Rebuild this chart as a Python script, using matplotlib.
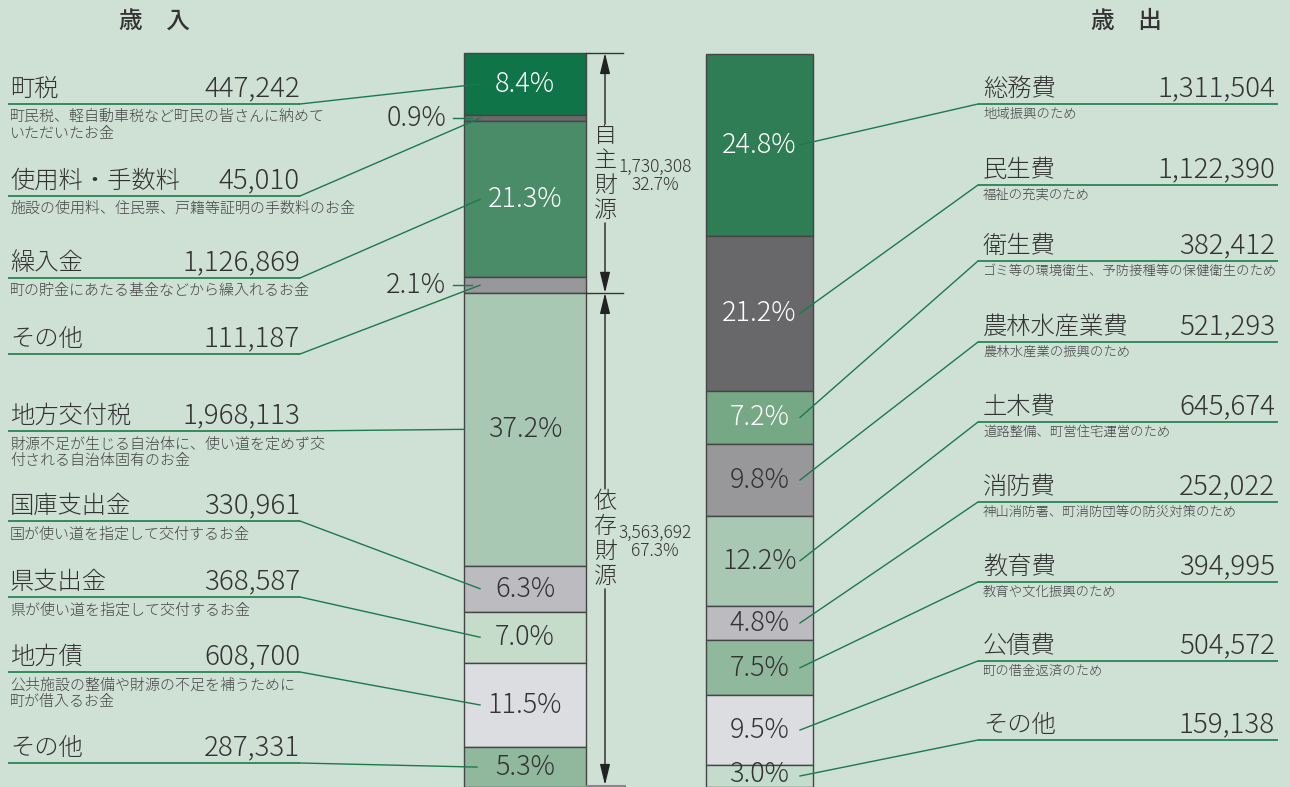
"""
Revenue / expenditure breakdown (歳入・歳出) as two stacked bars with leader labels.
"""
import matplotlib
matplotlib.use('Agg')
import matplotlib.pyplot as plt
import numpy as np

plt.rcParams['font.family'] = ['Noto Sans CJK JP', 'DejaVu Sans']
plt.rcParams['font.weight'] = 'light'

# ---- data: 歳入 ----
rev_names = ['町税', '使用料・手数料', '繰入金', 'その他', '地方交付税',
             '国庫支出金', '県支出金', '地方債', 'その他']
rev_values = [447242, 45010, 1126869, 111187, 1968113, 330961, 368587, 608700, 287331]
rev_pcts = [8.4, 0.9, 21.3, 2.1, 37.2, 6.3, 7.0, 11.5, 5.3]
rev_notes = ['町民税、軽自動車税など町民の皆さんに納めて\nいただいたお金',
             '施設の使用料、住民票、戸籍等証明の手数料のお金',
             '町の貯金にあたる基金などから繰入れるお金',
             '',
             '財源不足が生じる自治体に、使い道を定めず交\n付される自治体固有のお金',
             '国が使い道を指定して交付するお金',
             '県が使い道を指定して交付するお金',
             '公共施設の整備や財源の不足を補うために\n町が借入るお金',
             '']
own_count = 4          # 自主財源 = first four items
own_pct, dep_pct = 32.7, 67.3

# ---- data: 歳出 ----
exp_names = ['総務費', '民生費', '衛生費', '農林水産業費', '土木費',
             '消防費', '教育費', '公債費', 'その他']
exp_values = [1311504, 1122390, 382412, 521293, 645674, 252022, 394995, 504572, 159138]
exp_pcts = [24.8, 21.2, 7.2, 9.8, 12.2, 4.8, 7.5, 9.5, 3.0]
exp_notes = ['地域振興のため', '福祉の充実のため',
             'ゴミ等の環境衛生、予防接種等の保健衛生のため',
             '農林水産業の振興のため', '道路整備、町営住宅運営のため',
             '神山消防署、町消防団等の防災対策のため',
             '教育や文化振興のため', '町の借金返済のため', '']

# ---- style ----
BG = '#cfe0d5'
GREEN = '#1b7a4c'
TXT = '#333333'
rev_colors = ['#0f7447', '#6a6a6d', '#4a8c68', '#98989b', '#a8c8b4',
              '#bcbcc0', '#c6dccb', '#dcdde0', '#8fb89c']
rev_white = [True, False, True, False, False, False, False, False, False]
exp_colors = ['#2e7d55', '#68686b', '#76a886', '#98989b', '#a8c8b4',
              '#bcbcc0', '#8fb89c', '#dcdde0', '#c4dccb']
exp_white = [True, True, True, False, False, False, False, False, False]

W, H = 1290, 787
fig = plt.figure(figsize=(W / 100, H / 100), dpi=100, facecolor=BG)


def px_axes(x0, y0, x1, y1):
    return fig.add_axes([x0 / W, 1 - y1 / H, (x1 - x0) / W, (y1 - y0) / H])


def stacked_bar(ax, values, colors, pcts, white):
    total = sum(values)
    bottoms = np.concatenate([[0], np.cumsum(values)[:-1]])
    ax.set_xlim(-0.5, 0.5)
    ax.set_ylim(total, 0)
    ax.axis('off')
    bars = ax.bar(0, values, bottom=bottoms, width=1, color=colors,
                  edgecolor='#454545', linewidth=1.0)
    for b in bars:
        b.set_clip_on(False)
    for b, v, p, w in zip(bottoms, values, pcts, white):
        if p < 2.5:
            continue
        # keep the bottom label inside the figure
        y = min(b + v / 2, total * 0.982)
        ax.text(0, y, f'{p:.1f}%', ha='center', va='center',
                fontsize=19.5, color='white' if w else TXT)
    return bottoms


rev_ax = px_axes(464, 53, 586, 787)
exp_ax = px_axes(706, 54, 813, 787)
rev_bottoms = stacked_bar(rev_ax, rev_values, rev_colors, rev_pcts, rev_white)
exp_bottoms = stacked_bar(exp_ax, exp_values, exp_colors, exp_pcts, exp_white)

# overlay in pixel coordinates for labels and leader lines
ov = fig.add_axes([0, 0, 1, 1])
ov.set_xlim(0, W)
ov.set_ylim(H, 0)
ov.axis('off')
ov.set_zorder(5)


def to_ov(ax, x, y):
    disp = ax.transData.transform((x, y))
    return ov.transData.inverted().transform(disp)


# headers
ov.text(154, 22, '歳　入', ha='center', va='center', fontsize=17,
        fontweight='medium', color=TXT)
ov.text(1126, 22, '歳　出', ha='center', va='center', fontsize=17,
        fontweight='medium', color=TXT)

# ---- left labels ----
rev_ul = [104, 196, 278, 354, 431, 521, 597, 672, 763]
rev_tip = [480, 480, 480, 480, 464, 480, 480, 480, 477]
for i, (name, val, note) in enumerate(zip(rev_names, rev_values, rev_notes)):
    ul = rev_ul[i]
    ov.text(10, ul - 8, name, ha='left', va='baseline', fontsize=17.5, color=TXT)
    ov.text(300, ul - 8, f'{val:,}', ha='right', va='baseline', fontsize=20, color=TXT)
    ov.plot([8, 300], [ul, ul], color=GREEN, lw=1.2, solid_capstyle='butt')
    if note:
        ov.text(10, ul + 6, note, ha='left', va='top', fontsize=10.8,
                color='#444444', linespacing=1.2)
    ty = to_ov(rev_ax, 0, rev_bottoms[i] + val / 2)[1]
    ov.plot([300, rev_tip[i]], [ul, ty], color=GREEN, lw=1.0)
    if rev_pcts[i] < 2.5:
        ov.text(446, ty, f'{rev_pcts[i]:.1f}%', ha='right', va='center',
                fontsize=19.5, color=TXT)
        ov.plot([453, 472], [ty, ty], color=GREEN, lw=1.0)

# ---- right labels ----
exp_ul = [104, 185, 261, 342, 422, 502, 582, 661, 740]
for i, (name, val, note) in enumerate(zip(exp_names, exp_values, exp_notes)):
    ul = exp_ul[i]
    ov.text(983, ul - 8, name, ha='left', va='baseline', fontsize=17.5, color=TXT)
    ov.text(1275, ul - 8, f'{val:,}', ha='right', va='baseline', fontsize=20, color=TXT)
    ov.plot([978, 1278], [ul, ul], color=GREEN, lw=1.2, solid_capstyle='butt')
    if note:
        ov.text(983, ul + 4, note, ha='left', va='top', fontsize=9.6, color='#444444')
    ty = to_ov(exp_ax, 0, exp_bottoms[i] + val / 2)[1]
    ov.plot([978, 800], [ul, ty], color=GREEN, lw=1.0)

# ---- bracket: 自主財源 / 依存財源 ----
total = sum(rev_values)
own_total = sum(rev_values[:own_count])
dep_total = total - own_total
y_top = to_ov(rev_ax, 0, 0)[1]
y_mid = to_ov(rev_ax, 0, own_total)[1]
y_bot = to_ov(rev_ax, 0, total)[1]
bx = 605
arrow = dict(arrowstyle='-|>,head_length=0.9,head_width=0.22', color='#222222',
             lw=1.0, mutation_scale=14, shrinkA=0, shrinkB=0)

for y in (y_top, y_mid):
    ov.plot([586, 623], [y, y], color='#333333', lw=1.0)
ov.plot([586, 625], [y_bot - 1, y_bot - 1], color='#888888', lw=1.5)

for (ya, yb, word, amount, pct) in [(y_top, y_mid, '自主財源', own_total, own_pct),
                                    (y_mid, y_bot - 2, '依存財源', dep_total, dep_pct)]:
    mid = (ya + yb) / 2
    ov.annotate('', xy=(bx, ya), xytext=(bx, mid - 50), arrowprops=arrow)
    ov.annotate('', xy=(bx, yb), xytext=(bx, mid + 50), arrowprops=arrow)
    for k, ch in enumerate(word):
        ov.text(bx, mid - 37.5 + 25 * k, ch, ha='center', va='center',
                fontsize=16.5, color=TXT)
    ov.text(655, mid - 6, f'{amount:,}', ha='center', va='center', fontsize=12.5, color=TXT)
    ov.text(655, mid + 12, f'{pct:.1f}%', ha='center', va='center', fontsize=12.5, color=TXT)

fig.savefig('out.png', dpi=100, facecolor=BG)
